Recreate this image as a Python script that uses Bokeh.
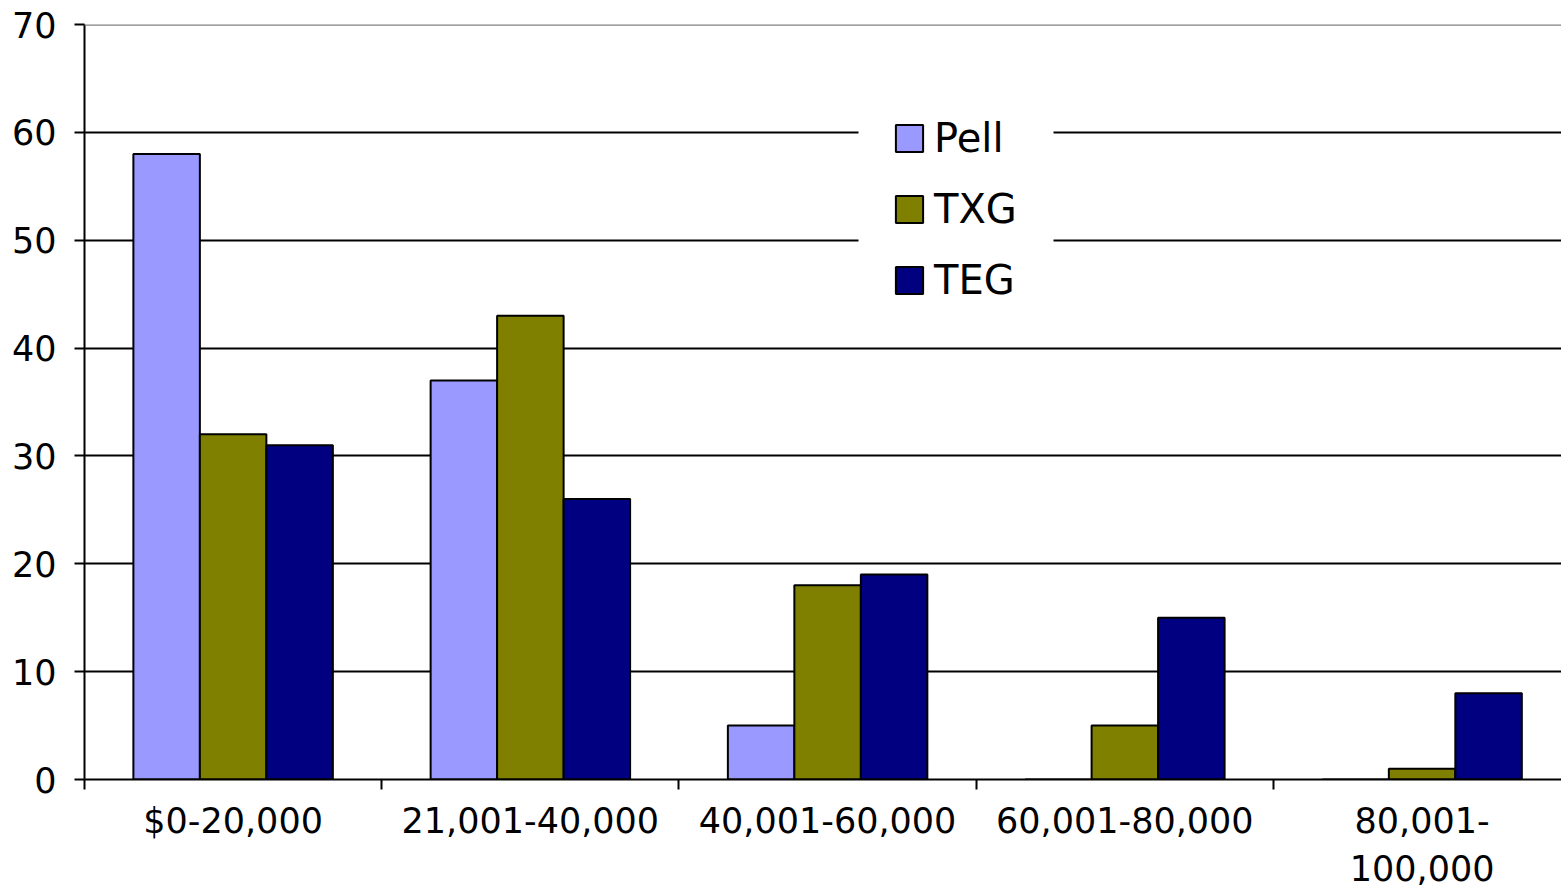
from bokeh.plotting import figure
from bokeh.models import ColumnDataSource, FixedTicker, Span, Range1d, Legend, LegendItem, BoxAnnotation
from bokeh.embed import file_html
from bokeh.resources import INLINE

categories = ["$0-20,000", "21,001-40,000", "40,001-60,000", "60,001-80,000", "80,001-\n100,000"]
pell = [58, 37, 5, 0, 0]
txg = [32, 43, 18, 5, 1]
teg = [31, 26, 19, 15, 8]
series_names = ["Pell", "TXG", "TEG"]
colors = ["#9999FF", "#808000", "#000080"]
y_ticks = [0, 10, 20, 30, 40, 50, 60, 70]

FONT = "DejaVu Sans"
bw = 0.2237
centers = [i + 0.5 for i in range(len(categories))]

p = figure(width=1561, height=893, output_backend="svg", toolbar_location=None,
           x_range=Range1d(0, 4.969), y_range=Range1d(0, 70),
           min_border_left=84, min_border_right=0, min_border_top=24, min_border_bottom=114)
p.outline_line_color = None
p.background_fill_color = "white"
p.border_fill_color = "white"

renderers = []
for k, (name, vals, col) in enumerate(zip(series_names, [pell, txg, teg], colors)):
    src = ColumnDataSource(dict(x=[c + (k - 1) * bw for c in centers], top=vals))
    r = p.vbar(x="x", top="top", width=bw, bottom=0, source=src,
               fill_color=col, line_color="black", line_width=2)
    renderers.append((name, r))

# grid
p.xgrid.visible = False
p.ygrid.ticker = FixedTicker(ticks=[10, 20, 30, 40, 50, 60])
p.ygrid.grid_line_color = "black"
p.ygrid.grid_line_width = 2
p.add_layout(Span(location=70, dimension="width", line_color="#808080", line_width=2.5))

# y axis
yax = p.yaxis[0]
yax.ticker = FixedTicker(ticks=y_ticks)
yax.major_label_text_font = FONT
yax.major_label_text_font_size = "35px"
yax.major_label_text_color = "black"
yax.major_tick_out = 10
yax.major_tick_in = 0
yax.minor_tick_line_color = None
yax.major_tick_line_width = 2
yax.axis_line_width = 2
yax.axis_line_color = "black"
yax.major_label_standoff = 18

# x axis
xax = p.xaxis[0]
xax.ticker = FixedTicker(ticks=centers, minor_ticks=[0, 1, 2, 3, 4, 5])
xax.major_label_overrides = {c: lab for c, lab in zip(centers, categories)}
xax.major_label_text_font = FONT
xax.major_label_text_font_size = "35px"
xax.major_label_text_color = "black"
xax.major_tick_out = 0
xax.major_tick_in = 0
xax.minor_tick_out = 10
xax.minor_tick_in = 0
xax.minor_tick_line_color = "black"
xax.minor_tick_line_width = 2
xax.axis_line_width = 2
xax.axis_line_color = "black"
xax.major_label_standoff = 11

# white background area behind the legend
p.add_layout(BoxAnnotation(left=774, right=969, top=679, bottom=464,
                           left_units="screen", right_units="screen",
                           top_units="screen", bottom_units="screen",
                           fill_color="white", fill_alpha=1.0, line_color=None))

legend = Legend(items=[LegendItem(label=n, renderers=[r]) for n, r in renderers],
                location=(808, 476), orientation="vertical")
legend.label_text_font = FONT
legend.label_text_font_size = "40px"
legend.label_text_color = "black"
legend.glyph_width = 34
legend.glyph_height = 34
legend.label_height = 40
legend.spacing = 25
legend.margin = 0
legend.label_standoff = 8
legend.border_line_color = None
legend.background_fill_color = "white"
legend.background_fill_alpha = 1.0
p.add_layout(legend)

open("out.html", "w").write(file_html(p, INLINE))
